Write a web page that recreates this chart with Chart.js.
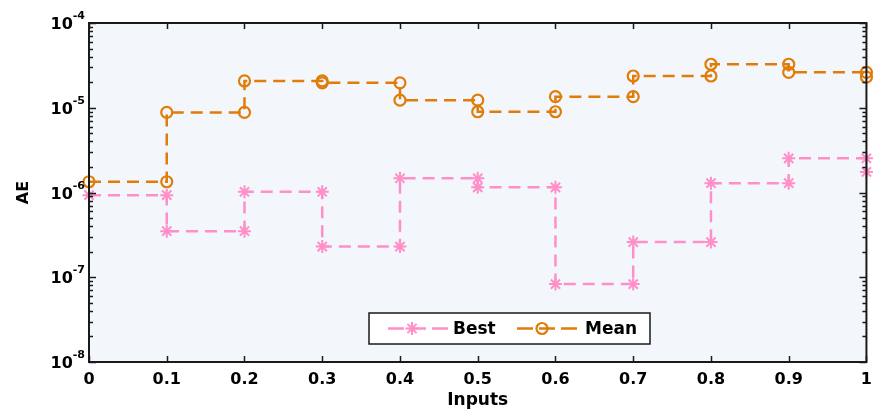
<!DOCTYPE html>
<html><head><meta charset="utf-8">
<script src="https://cdn.jsdelivr.net/npm/chart.js@4/dist/chart.umd.min.js"></script>
<style>html,body{margin:0;padding:0;background:#fff;}#wrap{width:880px;height:414px;}</style>
</head><body><div id="wrap"><canvas id="c" width="880" height="414"></canvas></div>
<script>
// ---- data ----
const inputs = [0, 0.1, 0.2, 0.3, 0.4, 0.5, 0.6, 0.7, 0.8, 0.9, 1];
const bestValues = [9.3e-7, 3.5e-7, 1.02e-6, 2.3e-7, 1.47e-6, 1.15e-6, 8.3e-8, 2.6e-7, 1.29e-6, 2.53e-6, 1.75e-6];
const meanValues = [1.34e-6, 8.8e-6, 2.07e-5, 1.97e-5, 1.23e-5, 8.97e-6, 1.35e-5, 2.37e-5, 3.26e-5, 2.62e-5, 2.3e-5];
const xTickValues = [0, 0.1, 0.2, 0.3, 0.4, 0.5, 0.6, 0.7, 0.8, 0.9, 1];
const yDecades = [-8, -7, -6, -5, -4];
const seriesNames = ['Best', 'Mean'];
const xTitle = 'Inputs';
const yTitle = 'AE';

const PINK = '#ff8fc8';
const ORANGE = '#e07c08';
const FONT = 'DejaVu Sans';

// stairs table: horizontal then vertical, vertex at every corner
function stairs(xs, vs) {
  const pts = [];
  for (let i = 0; i < xs.length; i++) {
    if (i > 0) pts.push({x: xs[i], y: vs[i - 1]});
    pts.push({x: xs[i], y: vs[i]});
  }
  return pts;
}

const bgPlugin = {
  id: 'bg',
  beforeDraw(chart) {
    const {ctx, chartArea: a} = chart;
    ctx.save();
    ctx.fillStyle = '#f3f7fc';
    ctx.fillRect(a.left, a.top, a.right - a.left, a.bottom - a.top);
    ctx.restore();
  }
};

const axesPlugin = {
  id: 'axesDeco',
  afterDraw(chart) {
    const {ctx, chartArea: a} = chart;
    const xs = chart.scales.x, ys = chart.scales.y;
    ctx.save();
    ctx.strokeStyle = '#1a1a1a';
    ctx.lineWidth = 1.5;
    ctx.beginPath();
    xTickValues.forEach(v => {
      const px = Math.round(xs.getPixelForValue(v)) + 0.5;
      ctx.moveTo(px, a.bottom); ctx.lineTo(px, a.bottom - 6);
      ctx.moveTo(px, a.top); ctx.lineTo(px, a.top + 6);
    });
    yDecades.forEach((d, i) => {
      const py = Math.round(ys.getPixelForValue(Math.pow(10, d))) + 0.5;
      ctx.moveTo(a.left, py); ctx.lineTo(a.left + 7, py);
      ctx.moveTo(a.right, py); ctx.lineTo(a.right - 7, py);
      if (i < yDecades.length - 1) {
        for (let k = 2; k <= 9; k++) {
          const pm = Math.round(ys.getPixelForValue(k * Math.pow(10, d))) + 0.5;
          ctx.moveTo(a.left, pm); ctx.lineTo(a.left + 4, pm);
          ctx.moveTo(a.right, pm); ctx.lineTo(a.right - 4, pm);
        }
      }
    });
    ctx.stroke();
    ctx.lineWidth = 2;
    ctx.strokeRect(a.left, a.top, a.right - a.left, a.bottom - a.top);

    ctx.fillStyle = '#000';
    yDecades.forEach(d => {
      const py = ys.getPixelForValue(Math.pow(10, d));
      const sup = String(d);
      ctx.font = 'bold 11px "' + FONT + '"';
      const sw = ctx.measureText(sup).width;
      const supX = a.left - 4 - sw;
      ctx.textAlign = 'left';
      ctx.textBaseline = 'alphabetic';
      ctx.fillText(sup, supX, py - 4);
      ctx.font = 'bold 16px "' + FONT + '"';
      ctx.textAlign = 'right';
      ctx.fillText('10', supX, py + 6);
    });

    const lx = a.left + 280, ly = a.bottom - 49, lw = 281, lh = 31;
    ctx.fillStyle = '#ffffff';
    ctx.fillRect(lx, ly, lw, lh);
    ctx.strokeStyle = '#1a1a1a';
    ctx.lineWidth = 1.5;
    ctx.strokeRect(lx, ly, lw, lh);
    const cy = ly + lh / 2;
    const items = [
      {ds: chart.data.datasets[0], x0: lx + 19, mx: lx + 43, tx: lx + 84},
      {ds: chart.data.datasets[1], x0: lx + 148, mx: lx + 173, tx: lx + 216}
    ];
    items.forEach(it => {
      ctx.strokeStyle = it.ds.borderColor;
      ctx.lineWidth = 2.5;
      ctx.setLineDash([16, 6]);
      ctx.beginPath(); ctx.moveTo(it.x0, cy); ctx.lineTo(it.x0 + 60, cy); ctx.stroke();
      ctx.setLineDash([]);
      ctx.lineWidth = it.ds.pointBorderWidth;
      ctx.fillStyle = 'rgba(0,0,0,0)';
      Chart.helpers.drawPoint(ctx, {pointStyle: it.ds.pointStyle, radius: it.ds.pointRadius, rotation: 0, borderWidth: it.ds.pointBorderWidth}, it.mx, cy);
      ctx.fillStyle = '#000';
      ctx.font = 'bold 17px "' + FONT + '"';
      ctx.textAlign = 'left';
      ctx.textBaseline = 'middle';
      ctx.fillText(it.ds.label, it.tx, cy + 1);
    });
    ctx.restore();
  }
};

const chart = new Chart(document.getElementById('c'), {
  type: 'line',
  data: {
    datasets: [
      {
        label: seriesNames[0],
        data: stairs(inputs, bestValues),
        borderColor: PINK, backgroundColor: PINK,
        borderWidth: 2.5, borderDash: [12, 7],
        pointStyle: 'star', pointRadius: 6.5, pointBorderWidth: 2,
        pointBorderColor: PINK, pointBackgroundColor: PINK,
        tension: 0, fill: false, clip: false
      },
      {
        label: seriesNames[1],
        data: stairs(inputs, meanValues),
        borderColor: ORANGE, backgroundColor: ORANGE,
        borderWidth: 2.5, borderDash: [12, 7],
        pointStyle: 'circle', pointRadius: 5.5, pointBorderWidth: 2.2,
        pointBorderColor: ORANGE, pointBackgroundColor: 'rgba(0,0,0,0)',
        tension: 0, fill: false, clip: false
      }
    ]
  },
  options: {
    responsive: false,
    devicePixelRatio: 1,
    animation: false,
    layout: {padding: {top: 23, right: 12, left: 0, bottom: 0}},
    plugins: {legend: {display: false}, tooltip: {enabled: false}},
    scales: {
      x: {
        type: 'linear', min: 0, max: 1,
        grid: {display: false, drawTicks: false},
        border: {display: false},
        ticks: {
          stepSize: 0.1, autoSkip: false, maxRotation: 0, padding: 8,
          color: '#000', font: {family: FONT, weight: 'bold', size: 16},
          callback: v => String(Math.round(v * 10) / 10)
        },
        title: {display: true, text: xTitle, color: '#000', font: {family: FONT, weight: 'bold', size: 17}, padding: {top: 0, bottom: 3}},
        afterFit: s => { s.height = 52; }
      },
      y: {
        type: 'logarithmic', min: 1e-8, max: 1e-4,
        grid: {display: false, drawTicks: false},
        border: {display: false},
        ticks: {display: false},
        title: {display: true, text: yTitle, color: '#000', font: {family: FONT, weight: 'bold', size: 16}, padding: {top: 14, bottom: 0}},
        afterFit: s => { s.width = 89; }
      }
    }
  },
  plugins: [bgPlugin, axesPlugin]
});
</script></body></html>
